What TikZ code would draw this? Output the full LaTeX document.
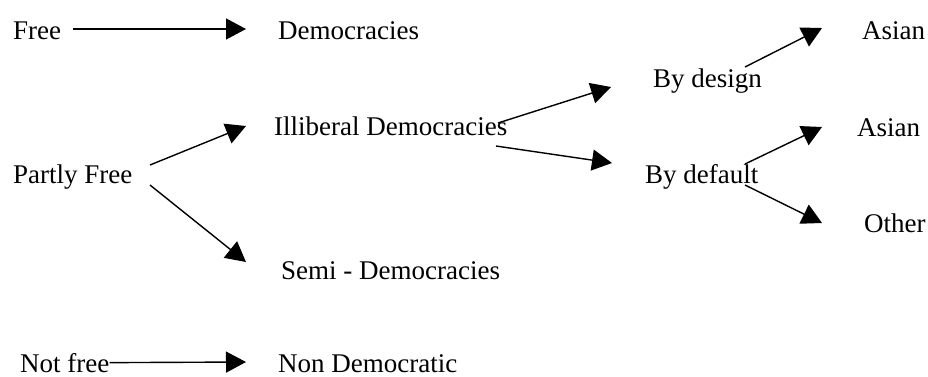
\documentclass[tikz,border=0pt]{standalone}
\usepackage{fontspec}
\setmainfont{Liberation Serif}
\usetikzlibrary{arrows.meta,positioning}

\tikzset{
  lbl/.style={anchor=base west, inner sep=0pt, font=\fontsize{27}{31}\selectfont},
  arr/.style={-{Triangle[length=20pt,width=21pt]}, line width=1.4pt}
}

\begin{document}
\begin{tikzpicture}[x=1pt,y=-1pt]
\useasboundingbox (0,0) rectangle (928,376);
% left column
\node[lbl] (free) at (13,39) {Free};
\node[lbl] (pf) at (13,183) {Partly Free};
\node[lbl] (notfree) at (20,372) {Not free};
% middle column
\node[lbl] (dem) at (278,39) {Democracies};
\node[lbl] (ill) at (274,135) {Illiberal Democracies};
\node[lbl] (semi) at (281,279) {Semi - Democracies};
\node[lbl] (nondem) at (278,372) {Non Democratic};
% right part
\node[lbl] (design) at (653,87) {By design};
\node[lbl] (default) at (645,183) {By default};
\node[lbl] (asian1) at (862,39) {Asian};
\node[lbl] (asian2) at (857,136) {Asian};
\node[lbl] (other) at (864,232) {Other};

\draw[arr] ([xshift=60pt,yshift=10pt]free.base west) -- ([xshift=-32pt,yshift=10pt]dem.base west);
\draw[arr] (notfree.east) -- ([xshift=-32pt,yshift=10pt]nondem.base west);
\draw[arr] ([xshift=137pt,yshift=18pt]pf.base west) -- ([xshift=-28pt,yshift=9pt]ill.base west);
\draw[arr] ([xshift=137pt,yshift=-2pt]pf.base west) -- ([xshift=-35pt,yshift=17pt]semi.base west);
\draw[arr] ([xshift=224pt,yshift=12pt]ill.base west) -- ([xshift=-42pt]design.base west);
\draw[arr] ([xshift=222pt,yshift=-11pt]ill.base west) -- ([xshift=-33pt,yshift=20pt]default.base west);
\draw[arr] ([xshift=92pt,yshift=20pt]design.base west) -- ([xshift=-40pt,yshift=11pt]asian1.base west);
\draw[arr] ([xshift=100pt,yshift=19pt]default.base west) -- ([xshift=-35pt,yshift=9pt]asian2.base west);
\draw[arr] ([xshift=100pt,yshift=-2pt]default.base west) -- ([xshift=-42pt,yshift=9pt]other.base west);
\end{tikzpicture}
\end{document}
